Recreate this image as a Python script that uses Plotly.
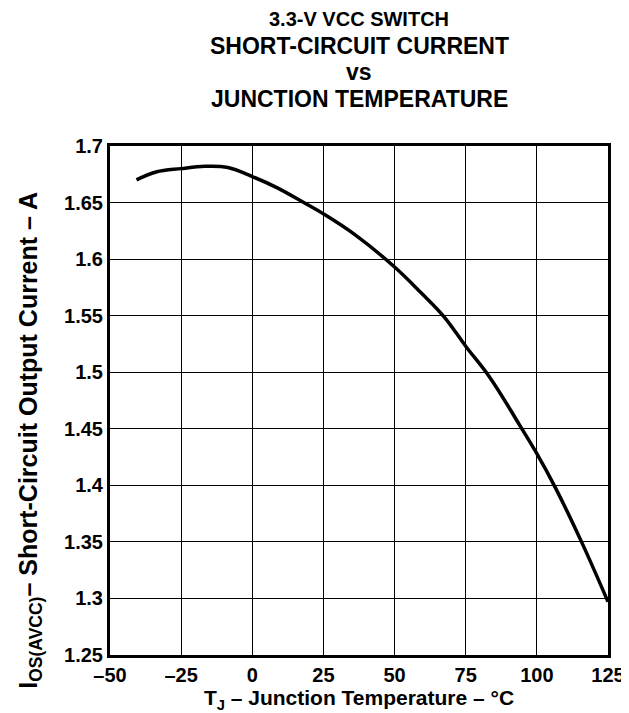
import plotly.graph_objects as go

# Data
temp_c = [-40.7, -33.8, -25, -16.7, -8.6, 0, 8.8, 18.1, 25, 36.4, 50, 59.4, 67.4, 75, 83.6, 94.0, 100, 106.5, 115.7, 125]
current_a = [1.670, 1.677, 1.680, 1.682, 1.681, 1.673, 1.663, 1.650, 1.640, 1.621, 1.593, 1.570, 1.549, 1.523, 1.495, 1.453, 1.428, 1.398, 1.350, 1.297]

x_ticks = [-50, -25, 0, 25, 50, 75, 100, 125]
x_tick_text = ["–50", "–25", "0", "25", "50", "75", "100", "125"]
y_ticks = [1.25, 1.3, 1.35, 1.4, 1.45, 1.5, 1.55, 1.6, 1.65, 1.7]
y_tick_text = ["1.25", "1.3", "1.35", "1.4", "1.45", "1.5", "1.55", "1.6", "1.65", "1.7"]

title_lines = ["3.3-V VCC SWITCH", "SHORT-CIRCUIT CURRENT", "vs", "JUNCTION TEMPERATURE"]
y_title = "I<sub>OS(AVCC)</sub>– Short-Circuit Output Current – A"
x_title = "T<sub>J</sub> – Junction Temperature – °C"

FONT = "Liberation Sans, Arial, sans-serif"
L, T, PW, PH = 102, 138, 509, 509

fig = go.Figure()
fig.add_trace(go.Scatter(
    x=temp_c, y=current_a, mode="lines",
    line=dict(color="black", width=3.5, shape="spline", smoothing=1.1),
    showlegend=False, hoverinfo="skip",
))

fig.update_layout(
    width=629, height=713,
    margin=dict(l=L, r=18, t=T, b=66),
    paper_bgcolor="white", plot_bgcolor="white",
    font=dict(family=FONT, color="black"),
    showlegend=False,
)

fig.update_xaxes(
    range=[-50, 125], tickmode="array", tickvals=x_ticks, ticktext=x_tick_text,
    showgrid=True, gridcolor="black", gridwidth=1.2,
    showline=True, linecolor="black", linewidth=3, mirror=True,
    ticks="", zeroline=False,
    tickfont=dict(size=20, family=FONT, weight="bold"),
    title=dict(text=x_title, font=dict(size=21, family=FONT, weight="bold"), standoff=6),
)
fig.update_yaxes(
    range=[1.25, 1.7], tickmode="array", tickvals=y_ticks, ticktext=y_tick_text,
    showgrid=True, gridcolor="black", gridwidth=1.2,
    showline=True, linecolor="black", linewidth=3, mirror=True,
    ticks="", zeroline=False,
    tickfont=dict(size=20, family=FONT, weight="bold"),
)

# rotated y-axis title (placed as in the reference, slightly below plot centre)
fig.add_annotation(
    text=y_title, textangle=-90, xref="paper", yref="paper",
    x=(20 - L) / PW, y=1 - (432 - T) / PH, xanchor="center", yanchor="middle",
    showarrow=False, font=dict(size=25, family=FONT, weight="bold", color="black"),
)

sizes = [20, 23, 23, 23]
ys = [11, 38, 64, 91]
for txt, sz, yp in zip(title_lines, sizes, ys):
    fig.add_annotation(
        text=txt, xref="paper", yref="paper", x=0.5,
        y=1 + (T - yp) / PH, yanchor="middle", xanchor="center",
        showarrow=False, font=dict(size=sz, family=FONT, weight="bold", color="black"),
    )

fig.write_html("out.html")
